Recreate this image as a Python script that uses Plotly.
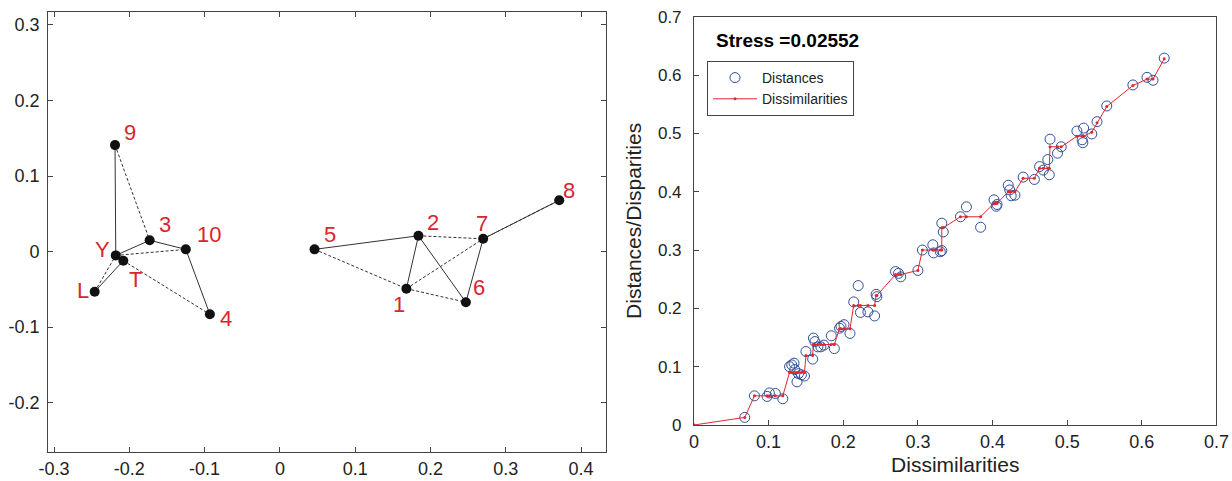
import plotly.graph_objects as go

# ---------------- Left panel: MDS configuration ----------------
point_names = ["9", "Y", "T", "L", "3", "10", "4", "5", "2", "7", "8", "1", "6"]
point_x = [-0.219, -0.218, -0.208, -0.246, -0.173, -0.125, -0.093,
           0.046, 0.184, 0.270, 0.371, 0.168, 0.247]
point_y = [0.141, -0.005, -0.012, -0.053, 0.015, 0.003, -0.083,
           0.003, 0.021, 0.017, 0.068, -0.049, -0.067]

solid_edges = [("9", "Y"), ("Y", "3"), ("3", "10"), ("10", "4"), ("L", "T"), ("Y", "T"),
               ("5", "2"), ("2", "1"), ("2", "6"), ("7", "6"), ("7", "8")]
dashed_edges = [("9", "3"), ("Y", "10"), ("T", "4"), ("L", "Y"),
                ("5", "1"), ("2", "7"), ("1", "7"), ("1", "6"), ("7", "8")]

# label offsets (pixels) - styling only
label_shift = {"9": (15, 12), "Y": (-13, 5), "T": (12, -20), "L": (-12, 0),
               "3": (15, 15), "10": (23, 14), "4": (16, -5), "5": (15, 14),
               "2": (15, 12), "7": (-1, 14), "8": (10, 9), "1": (-7, -17), "6": (13, 14)}

left_xticks = [-0.3, -0.2, -0.1, 0, 0.1, 0.2, 0.3, 0.4]
left_xticktext = ["-0.3", "-0.2", "-0.1", "0", "0.1", "0.2", "0.3", "0.4"]
left_yticks = [-0.2, -0.1, 0, 0.1, 0.2, 0.3]
left_yticktext = ["-0.2", "-0.1", "0", "0.1", "0.2", "0.3"]

# ---------------- Right panel: Shepard plot ----------------
dissimilarities = [0.068, 0.081, 0.098, 0.101, 0.109, 0.119, 0.128, 0.131, 0.134, 0.135,
                   0.138, 0.140, 0.144, 0.148, 0.150, 0.159, 0.160, 0.162, 0.166, 0.170,
                   0.174, 0.184, 0.188, 0.195, 0.197, 0.201, 0.209, 0.214, 0.220, 0.223,
                   0.233, 0.242, 0.244, 0.245, 0.270, 0.274, 0.277, 0.300, 0.306, 0.320,
                   0.321, 0.330, 0.332, 0.332, 0.334, 0.357, 0.365, 0.384, 0.402, 0.405,
                   0.406, 0.421, 0.423, 0.425, 0.430, 0.441, 0.456, 0.463, 0.468, 0.474,
                   0.476, 0.477, 0.487, 0.492, 0.513, 0.520, 0.521, 0.522, 0.533, 0.540,
                   0.553, 0.588, 0.607, 0.615, 0.630]
distances = [0.013, 0.050, 0.049, 0.055, 0.054, 0.045, 0.100, 0.103, 0.106, 0.095,
             0.074, 0.088, 0.086, 0.084, 0.126, 0.113, 0.149, 0.143, 0.134, 0.134,
             0.137, 0.153, 0.131, 0.166, 0.169, 0.172, 0.157, 0.211, 0.239, 0.193,
             0.194, 0.187, 0.224, 0.220, 0.263, 0.260, 0.254, 0.265, 0.300, 0.309,
             0.295, 0.297, 0.299, 0.346, 0.331, 0.357, 0.374, 0.339, 0.386, 0.375,
             0.378, 0.411, 0.403, 0.393, 0.394, 0.425, 0.421, 0.443, 0.437, 0.455,
             0.429, 0.490, 0.466, 0.477, 0.504, 0.489, 0.484, 0.509, 0.499, 0.520,
             0.547, 0.583, 0.596, 0.591, 0.629]
disparities = [0.013, 0.050, 0.050, 0.050, 0.050, 0.050, 0.090, 0.090, 0.090, 0.090,
               0.090, 0.090, 0.090, 0.090, 0.119, 0.119, 0.138, 0.138, 0.138, 0.138,
               0.138, 0.138, 0.138, 0.165, 0.165, 0.165, 0.165, 0.205, 0.205, 0.205,
               0.205, 0.205, 0.222, 0.222, 0.258, 0.258, 0.258, 0.265, 0.300, 0.300,
               0.300, 0.300, 0.300, 0.338, 0.338, 0.357, 0.357, 0.357, 0.380, 0.380,
               0.380, 0.400, 0.400, 0.400, 0.400, 0.423, 0.423, 0.440, 0.440, 0.440,
               0.440, 0.477, 0.477, 0.477, 0.495, 0.495, 0.495, 0.495, 0.502, 0.518,
               0.546, 0.582, 0.593, 0.593, 0.628]
origin = [0.0]
stress_text = "Stress =0.02552"

right_ticks = [0, 0.1, 0.2, 0.3, 0.4, 0.5, 0.6, 0.7]
right_ticktext = ["0", "0.1", "0.2", "0.3", "0.4", "0.5", "0.6", "0.7"]

FONT = "Liberation Sans, Arial, sans-serif"
AX = "#444444"

idx = {n: i for i, n in enumerate(point_names)}


def edge_coords(edges):
    xs, ys = [], []
    for a, b in edges:
        xs += [point_x[idx[a]], point_x[idx[b]], None]
        ys += [point_y[idx[a]], point_y[idx[b]], None]
    return xs, ys


fig = go.Figure()

sx, sy = edge_coords(solid_edges)
dx, dy = edge_coords(dashed_edges)
fig.add_trace(go.Scatter(x=dx, y=dy, mode="lines", xaxis="x", yaxis="y",
                         line=dict(color="#333333", width=1, dash="3px,2px"),
                         showlegend=False, hoverinfo="skip"))
fig.add_trace(go.Scatter(x=sx, y=sy, mode="lines", xaxis="x", yaxis="y",
                         line=dict(color="#333333", width=1),
                         showlegend=False, hoverinfo="skip"))
fig.add_trace(go.Scatter(x=point_x, y=point_y, mode="markers", xaxis="x", yaxis="y",
                         marker=dict(color="#111111", size=10),
                         showlegend=False))

annotations = []
for n, x, y in zip(point_names, point_x, point_y):
    xs_, ys_ = label_shift[n]
    annotations.append(dict(x=x, y=y, xref="x", yref="y", text=n, showarrow=False,
                            xshift=xs_, yshift=ys_ + 1, xanchor="center", yanchor="middle",
                            font=dict(family=FONT, size=22, color="#d9262e")))

# Right panel traces
fig.add_trace(go.Scatter(x=dissimilarities, y=distances, mode="markers", xaxis="x2", yaxis="y2",
                         name="Distances",
                         marker=dict(symbol="circle-open", size=10,
                                     color="#2e4f9a", line=dict(width=1, color="#2e4f9a"))))
fig.add_trace(go.Scatter(x=origin + dissimilarities, y=origin + disparities, mode="lines+markers",
                         xaxis="x2", yaxis="y2", name="Dissimilarities",
                         line=dict(color="#e0262e", width=1),
                         marker=dict(size=3, color="#e0262e")))

annotations.append(dict(x=714 / 1232, y=1 - 40 / 481, xref="paper", yref="paper",
                        text="<b>" + stress_text + "</b>", showarrow=False,
                        xanchor="left", yanchor="middle",
                        font=dict(family=FONT, size=19, color="black")))

axis_common = dict(showgrid=False, zeroline=False, showline=True, linecolor=AX, linewidth=1,
                   ticks="inside", ticklen=5, tickcolor=AX, automargin=False,
                   tickfont=dict(family=FONT, size=18, color="#222222"))

fig.update_layout(
    width=1232, height=481,
    margin=dict(l=0, r=0, t=0, b=0, autoexpand=False),
    paper_bgcolor="white", plot_bgcolor="white",
    font=dict(family=FONT),
    xaxis=dict(domain=[0.0391, 0.4915], range=[-0.3078, 0.4325], anchor="y",
               tickvals=left_xticks, ticktext=left_xticktext, mirror="ticks", **axis_common),
    yaxis=dict(domain=[0.0603, 0.9751], range=[-0.2652, 0.3172], anchor="x",
               tickvals=left_yticks, ticktext=left_yticktext, mirror="ticks",
               ticklabelstandoff=4, **axis_common),
    xaxis2=dict(domain=[0.5633, 0.9874], range=[0, 0.7], anchor="y2",
                tickvals=right_ticks, ticktext=right_ticktext, mirror=True,
                title=dict(text="Dissimilarities", standoff=6,
                           font=dict(family=FONT, size=21, color="#222222")),
                **axis_common),
    yaxis2=dict(domain=[0.1164, 0.9653], range=[0, 0.7], anchor="x2",
                tickvals=right_ticks, ticktext=right_ticktext, mirror=True,
                ticklabelstandoff=8,
                title=dict(text="Distances/Disparities", standoff=10,
                           font=dict(family=FONT, size=21, color="#222222")),
                **axis_common),
    legend=dict(x=707 / 1232, y=1 - 61 / 481, xanchor="left", yanchor="top",
                bordercolor=AX, borderwidth=1, bgcolor="white",
                font=dict(family=FONT, size=14, color="#222222"),
                tracegroupgap=0, itemwidth=44),
    annotations=annotations,
)
fig.update_yaxes(tickfont=dict(size=17), selector=dict(anchor="x2"))

fig.write_html("out.html", config={"displayModeBar": False},
               post_script="document.body.style.margin='0';document.body.style.overflow='hidden';")
